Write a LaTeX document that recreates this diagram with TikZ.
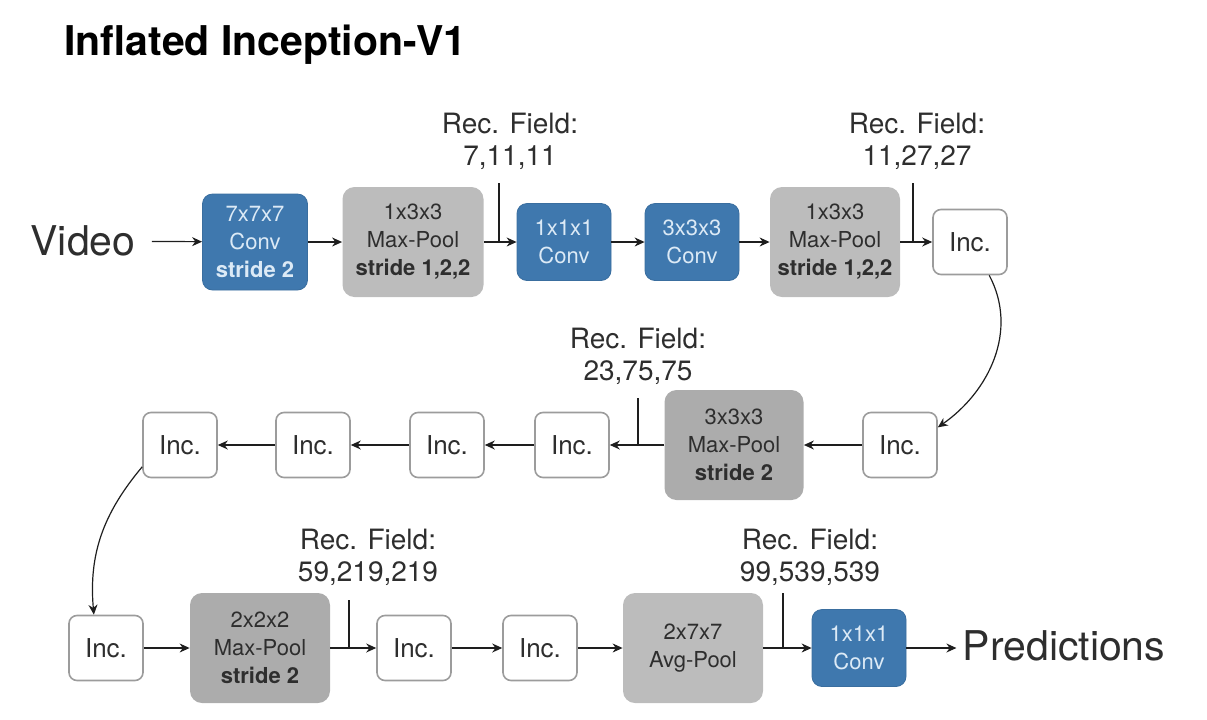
\documentclass[tikz,border=0pt]{standalone}
\usepackage{fontspec}
\setmainfont{TeX Gyre Heros}
\usetikzlibrary{arrows.meta}
\definecolor{convblue}{HTML}{3F78AE}
\definecolor{convedge}{HTML}{3A6E9F}
\definecolor{convtxt}{HTML}{DCEAF6}
\definecolor{poollight}{HTML}{BCBCBC}
\definecolor{pooldark}{HTML}{ACACAC}
\definecolor{textgray}{HTML}{2E2E2E}
\definecolor{incedge}{HTML}{9C9C9C}
\definecolor{linecol}{HTML}{1E1E1E}
\begin{document}
\begin{tikzpicture}[x=0.5pt,y=-0.5pt,>={Stealth[length=5pt,width=4.5pt]}]
  \tikzstyle{every node}=[font=\fontsize{11}{14}\selectfont,text=textgray,align=center,inner sep=0pt]
  \tikzstyle{conv}=[rounded corners=5pt,fill=convblue,draw=convedge,text=convtxt,minimum width=47pt,minimum height=38.5pt]
  \tikzstyle{pool}=[rounded corners=6pt,fill=poollight,minimum height=55pt]
  \tikzstyle{inc}=[rounded corners=4pt,draw=incedge,line width=0.8pt,fill=white,minimum width=37pt,minimum height=32.5pt,font=\fontsize{13}{15}\selectfont]
  \tikzstyle{rf}=[font=\fontsize{14}{16}\selectfont]
  \tikzstyle{big}=[font=\fontsize{20.5}{24}\selectfont]
  \tikzstyle{link}=[->,line width=0.6pt,draw=linecol]
  \tikzstyle{tick}=[line width=0.6pt,draw=linecol]
  \useasboundingbox (0,0) rectangle (1207,719);
  \node[anchor=west,font=\bfseries\fontsize{20.5}{24}\selectfont,text=black] (title) at (64,45) {Inflated Inception-V1};
  % first row
  \node[big] (video) at (83,241) {Video};
  \node[conv,minimum width=52.5pt,minimum height=48pt] (c1) at (255,242) {7x7x7\\Conv\\\textbf{stride 2}};
  \node[pool,minimum width=70.5pt] (p1) at (413,242) {1x3x3\\Max-Pool\\\textbf{stride 1,2,2}};
  \node[conv] (c2) at (564,242) {1x1x1\\Conv};
  \node[conv] (c3) at (692,242) {3x3x3\\Conv};
  \node[pool,minimum width=65pt] (p2) at (835,242) {1x3x3\\Max-Pool\\\textbf{stride 1,2,2}};
  \node[inc] (i1) at (970,242) {Inc.};
  \node[rf] (rf1) at (510,141) {Rec. Field:\\7,11,11};
  \node[rf] (rf2) at (917,141) {Rec. Field:\\11,27,27};
  \coordinate (t1) at (499,183);
  \coordinate (t2) at (913,183);
  % second row
  \node[inc] (i2) at (900,445) {Inc.};
  \node[pool,fill=pooldark,minimum width=69.5pt] (p3) at (734,445) {3x3x3\\Max-Pool\\\textbf{stride 2}};
  \node[inc] (i3) at (572,445) {Inc.};
  \node[inc] (i4) at (447,445) {Inc.};
  \node[inc] (i5) at (313,445) {Inc.};
  \node[inc] (i6) at (180,445) {Inc.};
  \node[rf] (rf3) at (638,356) {Rec. Field:\\23,75,75};
  \coordinate (t3) at (638,398);
  % third row
  \node[inc] (i7) at (106,648) {Inc.};
  \node[pool,fill=pooldark,minimum width=70pt] (p4) at (260,648) {2x2x2\\Max-Pool\\\textbf{stride 2}};
  \node[inc] (i8) at (414,648) {Inc.};
  \node[inc] (i9) at (540,648) {Inc.};
  \node[pool,minimum width=70pt] (p5) at (693,648) {2x7x7\\Avg-Pool};
  \node[conv] (c4) at (859,648) {1x1x1\\Conv};
  \node[big] (pred) at (1064,646) {Predictions};
  \node[rf] (rf4) at (368,557) {Rec. Field:\\59,219,219};
  \node[rf] (rf5) at (810,557) {Rec. Field:\\99,539,539};
  \coordinate (t4) at (349,600);
  \coordinate (t5) at (783,593);
  % connectors
  \draw[link,shorten <=8pt] (video) -- (c1);
  \draw[link] (c1) -- (p1);
  \draw[link] (p1) -- (c2);
  \draw[link] (c2) -- (c3);
  \draw[link] (c3) -- (p2);
  \draw[link] (p2) -- (i1);
  \draw[link] (i1.-60) to[out=-62,in=35] (i2.25);
  \draw[link] (i2) -- (p3);
  \draw[link] (p3) -- (i3);
  \draw[link] (i3) -- (i4);
  \draw[link] (i4) -- (i5);
  \draw[link] (i5) -- (i6);
  \draw[link] (i6.210) to[out=-130,in=95] (i7.110);
  \draw[link] (i7) -- (p4);
  \draw[link] (p4) -- (i8);
  \draw[link] (i8) -- (i9);
  \draw[link] (i9) -- (p5);
  \draw[link] (p5) -- (c4);
  \draw[link,shorten >=3pt] (c4) -- (pred.west |- c4.east);
  % rec. field ticks
  \draw[tick] (t1) -- (t1 |- p1.east);
  \draw[tick] (t2) -- (t2 |- p2.east);
  \draw[tick] (t3) -- (t3 |- p3.west);
  \draw[tick] (t4) -- (t4 |- p4.east);
  \draw[tick] (t5) -- (t5 |- p5.east);
\end{tikzpicture}
\end{document}
